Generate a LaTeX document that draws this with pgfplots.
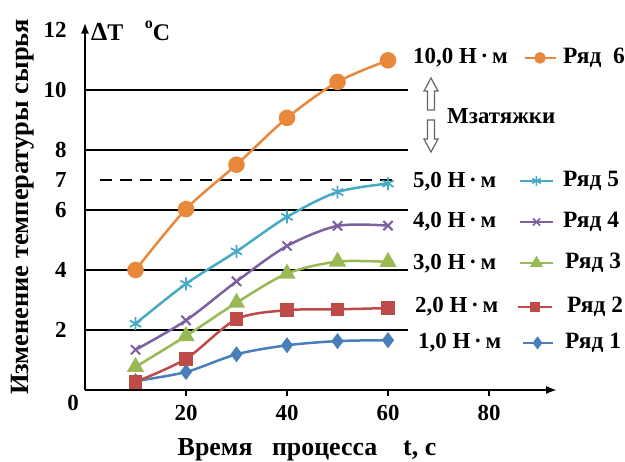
\documentclass[border=0pt]{standalone}
\usepackage{fontspec}
\setmainfont{Liberation Serif}
\usepackage{pgfplots}
\pgfplotsset{compat=1.18}
\usetikzlibrary{arrows.meta}
\definecolor{c1}{HTML}{4A7EBB}
\definecolor{c2}{HTML}{BE4B48}
\definecolor{c3}{HTML}{98B954}
\definecolor{c4}{HTML}{7D60A0}
\definecolor{c5}{HTML}{46AAC5}
\definecolor{c6}{HTML}{E8883A}
\newcommand\fs[1]{\fontsize{#1}{#1}\selectfont\bfseries}
\begin{document}
\begin{tikzpicture}
\useasboundingbox (0,0) rectangle (625bp,-462bp);
\begin{axis}[
  at={(85bp,-390bp)}, anchor=south west,
  scale only axis, width=472.2bp, height=367.5bp,
  xmin=0, xmax=93.5, ymin=0, ymax=12.25,
  axis lines=left,
  axis line style={line width=2.6bp, -{Latex[length=11bp,width=8bp]}},
  xtick={20,40,60,80}, ytick={2,4,6,7,8,10,12},
  x tick style={black, line width=1.2bp},
  tick align=outside, major tick length=6bp,
  y tick style={draw=none},
  ticklabel style={font=\fs{23}},
  xticklabel style={yshift=-6bp},
  yticklabel style={xshift=-9bp},
  /pgf/number format/assume math mode=true,
  clip=false,
]
% grid lines
\addplot[black, line width=1.3bp, forget plot] coordinates {(0,2)(64,2)};
\addplot[black, line width=1.3bp, forget plot] coordinates {(0,4)(64,4)};
\addplot[black, line width=1.3bp, forget plot] coordinates {(0,6)(64,6)};
\addplot[black, line width=1.3bp, forget plot] coordinates {(0,8)(64,8)};
\addplot[black, line width=1.3bp, forget plot] coordinates {(0,10)(64,10)};
\addplot[black, line width=1.3bp, dash pattern=on 12bp off 8bp, forget plot] coordinates {(3,7)(62,7)};
% data
\addplot[c1, line width=2.5bp, smooth, mark=diamond*, mark size=6bp, mark options={solid,fill=c1}] coordinates {(10,0.3)(20,0.6)(30,1.19)(40,1.49)(50,1.63)(60,1.66)};
\addplot[c2, line width=2.5bp, smooth, mark=square*, mark size=5.5bp, mark options={solid,fill=c2}] coordinates {(10,0.27)(20,1.04)(30,2.36)(40,2.66)(50,2.69)(60,2.73)};
\addplot[c3, line width=2.5bp, smooth, mark=triangle*, mark size=7.5bp, mark options={solid,fill=c3}] coordinates {(10,0.77)(20,1.8)(30,2.91)(40,3.88)(50,4.28)(60,4.27)};
\addplot[c4, line width=2.5bp, smooth, mark=x, mark size=6.5bp, mark options={solid,line width=2bp}] coordinates {(10,1.34)(20,2.32)(30,3.62)(40,4.8)(50,5.47)(60,5.48)};
\addplot[c5, line width=2.5bp, smooth, mark=asterisk, mark size=6.5bp, mark options={solid,line width=1.8bp}] coordinates {(10,2.21)(20,3.54)(30,4.62)(40,5.77)(50,6.6)(60,6.88)};
\addplot[c6, line width=2.5bp, smooth, mark=*, mark size=7bp, mark options={solid,fill=c6}] coordinates {(10,4.0)(20,6.03)(30,7.51)(40,9.07)(50,10.27)(60,10.99)};
% legend samples
\addplot[c6, line width=2.5bp, mark=*, mark size=4.5bp, mark indices={2}, mark options={fill=c6}] coordinates {(87.1,11.07)(90.1,11.07)(93.3,11.07)};
\addplot[c5, line width=2.5bp, mark=asterisk, mark size=5bp, mark indices={2}, mark options={line width=1.5bp}] coordinates {(86.1,6.97)(89.4,6.97)(92.7,6.97)};
\addplot[c4, line width=2.5bp, mark=x, mark size=5bp, mark indices={2}, mark options={line width=1.5bp}] coordinates {(86.1,5.6)(89.4,5.6)(92.7,5.6)};
\addplot[c3, line width=2.5bp, mark=triangle*, mark size=5bp, mark indices={2}, mark options={fill=c3}] coordinates {(86.1,4.23)(89.4,4.23)(92.7,4.23)};
\addplot[c2, line width=2.5bp, mark=square*, mark size=4bp, mark indices={2}, mark options={fill=c2}] coordinates {(85.7,2.77)(89.1,2.77)(92.5,2.77)};
\addplot[c1, line width=2.5bp, mark=diamond*, mark size=4.5bp, mark indices={2}, mark options={fill=c1}] coordinates {(86.7,1.57)(89.6,1.57)(92.7,1.57)};
\end{axis}
% axis titles
\node[rotate=90, anchor=base, font=\fs{26.5}] at (28bp,-207bp) {Изменение температуры сырья};
\node[anchor=base, font=\fs{26}] at (307bp,-455bp) {Время\ \ \ процесса\ \ \ \ t, с};
\node[anchor=base west, font=\fs{24}, inner sep=0] at (91bp,-40bp) {{\fs{26}Δ}T\hspace{0.9em}\raisebox{0.5em}{\fs{16}o}C};
\node[font=\fs{23}] at (73bp,-403bp) {0};
% right-hand labels
\node[anchor=west, inner sep=0, font=\fs{23}] at (413bp,-58bp) {10,0 Н\,·\,м};
\node[anchor=west, inner sep=0, font=\fs{23}] at (413bp,-182bp) {5,0 Н\,·\,м};
\node[anchor=west, inner sep=0, font=\fs{23}] at (413bp,-222bp) {4,0 Н\,·\,м};
\node[anchor=west, inner sep=0, font=\fs{23}] at (413bp,-264bp) {3,0 Н\,·\,м};
\node[anchor=west, inner sep=0, font=\fs{23}] at (415bp,-307bp) {2,0 Н\,·\,м};
\node[anchor=west, inner sep=0, font=\fs{23}] at (418bp,-343bp) {1,0 Н\,·\,м};
\node[anchor=west, inner sep=0, font=\fs{23.5}] at (563bp,-58bp) {Ряд\ \ 6};
\node[anchor=west, inner sep=0, font=\fs{23.5}] at (563bp,-181bp) {Ряд\ 5};
\node[anchor=west, inner sep=0, font=\fs{23.5}] at (563bp,-222bp) {Ряд\ 4};
\node[anchor=west, inner sep=0, font=\fs{23.5}] at (565bp,-263bp) {Ряд\ 3};
\node[anchor=west, inner sep=0, font=\fs{23.5}] at (567bp,-307bp) {Ряд\ 2};
\node[anchor=west, inner sep=0, font=\fs{23.5}] at (565bp,-343bp) {Ряд\ 1};
\node[anchor=west, inner sep=0, font=\fs{23}] at (447bp,-116bp) {Мзатяжки};
% outline arrows
\draw[gray!80!black, line width=1.2bp, fill=white]
  (431bp,-78bp) -- (438bp,-91bp) -- (434.5bp,-91bp) -- (434.5bp,-110bp) -- (427.5bp,-110bp) -- (427.5bp,-91bp) -- (424bp,-91bp) -- cycle;
\draw[gray!80!black, line width=1.2bp, fill=white]
  (431bp,-152bp) -- (438bp,-139bp) -- (434.5bp,-139bp) -- (434.5bp,-120bp) -- (427.5bp,-120bp) -- (427.5bp,-139bp) -- (424bp,-139bp) -- cycle;
\end{tikzpicture}
\end{document}
